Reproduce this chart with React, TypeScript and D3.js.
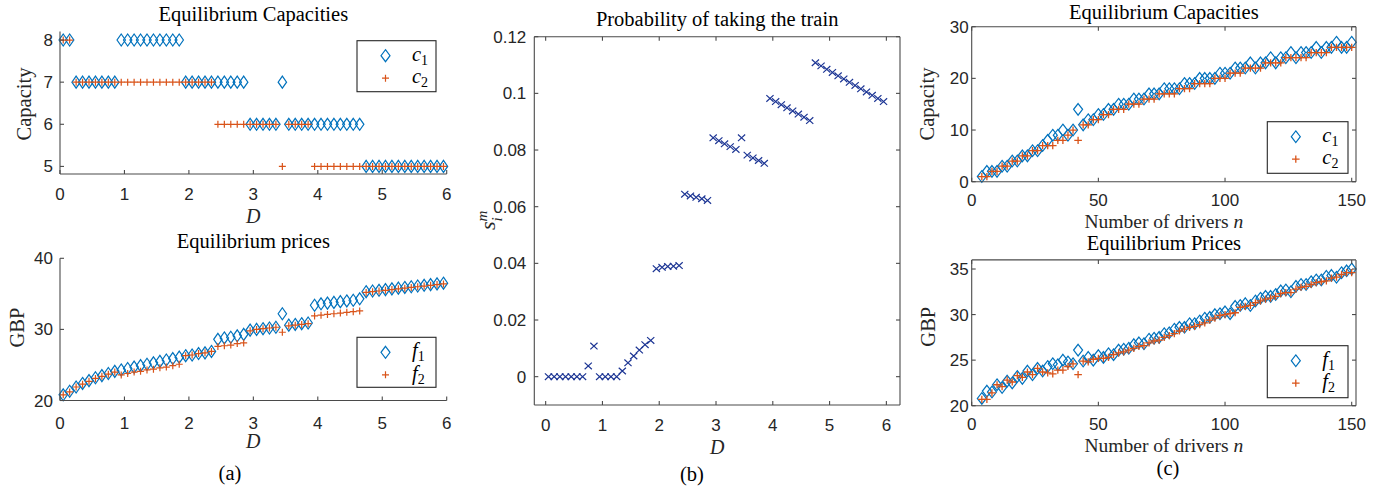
import React from "react";
import * as d3 from "d3";

// ---------------- data ----------------
const D_VALUES = [
  0.05, 0.15, 0.25, 0.35, 0.45, 0.55, 0.65, 0.75, 0.85, 0.95,
  1.05, 1.15, 1.25, 1.35, 1.45, 1.55, 1.65, 1.75, 1.85, 1.95,
  2.05, 2.15, 2.25, 2.35, 2.45, 2.55, 2.65, 2.75, 2.85, 2.95,
  3.05, 3.15, 3.25, 3.35, 3.45, 3.55, 3.65, 3.75, 3.85, 3.95,
  4.05, 4.15, 4.25, 4.35, 4.45, 4.55, 4.65, 4.75, 4.85, 4.95,
  5.05, 5.15, 5.25, 5.35, 5.45, 5.55, 5.65, 5.75, 5.85, 5.95,
];

const CAP1_D = [
  8, 8, 7, 7, 7, 7, 7, 7, 7, 8,
  8, 8, 8, 8, 8, 8, 8, 8, 8, 7,
  7, 7, 7, 7, 7, 7, 7, 7, 7, 6,
  6, 6, 6, 6, 7, 6, 6, 6, 6, 6,
  6, 6, 6, 6, 6, 6, 6, 5, 5, 5,
  5, 5, 5, 5, 5, 5, 5, 5, 5, 5,
];
const CAP2_D = [
  8, 8, 7, 7, 7, 7, 7, 7, 7, 7,
  7, 7, 7, 7, 7, 7, 7, 7, 7, 7,
  7, 7, 7, 7, 6, 6, 6, 6, 6, 6,
  6, 6, 6, 6, 5, 6, 6, 6, 6, 5,
  5, 5, 5, 5, 5, 5, 5, 5, 5, 5,
  5, 5, 5, 5, 5, 5, 5, 5, 5, 5,
];

const PRICE1_D = [
  20.8, 21.3, 21.9, 22.4, 22.8, 23.2, 23.5, 23.8, 24.1, 24.3,
  24.5, 24.7, 24.9, 25.1, 25.3, 25.5, 25.7, 25.9, 26.1, 26.3,
  26.4, 26.6, 26.7, 26.9, 28.6, 28.8, 28.9, 29.1, 29.3, 29.9,
  30.0, 30.1, 30.2, 30.3, 32.2, 30.6, 30.7, 30.8, 30.9, 33.4,
  33.6, 33.7, 33.8, 33.9, 34.0, 34.1, 34.3, 35.3, 35.4, 35.5,
  35.6, 35.7, 35.8, 35.9, 36.0, 36.1, 36.2, 36.3, 36.4, 36.5,
];
const PRICE2_D = [
  20.8, 21.2, 21.9, 22.3, 22.7, 23.1, 23.4, 23.7, 24.0, 23.6,
  23.8, 24.0, 24.1, 24.3, 24.4, 24.6, 24.7, 24.9, 25.1, 26.3,
  26.4, 26.6, 26.7, 26.9, 27.6, 27.7, 27.8, 28.0, 28.1, 29.8,
  30.0, 30.1, 30.2, 30.3, 29.6, 30.5, 30.6, 30.7, 30.8, 31.9,
  32.0, 32.1, 32.2, 32.3, 32.4, 32.5, 32.6, 35.2, 35.3, 35.4,
  35.5, 35.6, 35.7, 35.8, 35.9, 36.0, 36.1, 36.2, 36.3, 36.4,
];

const TRAIN_PROB = [
  0, 0, 0, 0, 0, 0, 0, 0.0038, 0.0108, 0,
  0, 0, 0, 0.002, 0.0049, 0.0073, 0.0094, 0.0113, 0.0128, 0.0381,
  0.0386, 0.0389, 0.039, 0.0392, 0.0644, 0.0638, 0.0633, 0.0628, 0.0622, 0.0843,
  0.0833, 0.0822, 0.0812, 0.0802, 0.0843, 0.0782, 0.0772, 0.0763, 0.0753, 0.0982,
  0.0971, 0.096, 0.0949, 0.0938, 0.0927, 0.0916, 0.0904, 0.1108, 0.1097, 0.1085,
  0.1074, 0.1062, 0.1051, 0.1039, 0.1028, 0.1016, 0.1005, 0.0993, 0.0982, 0.0971,
];

const N_VALUES = [
  4, 6, 8, 10, 12, 14, 16, 18, 20, 22,
  24, 26, 28, 30, 32, 34, 36, 38, 40, 42,
  44, 46, 48, 50, 52, 54, 56, 58, 60, 62,
  64, 66, 68, 70, 72, 74, 76, 78, 80, 82,
  84, 86, 88, 90, 92, 94, 96, 98, 100, 102,
  104, 106, 108, 110, 112, 114, 116, 118, 120, 122,
  124, 126, 128, 130, 132, 134, 136, 138, 140, 142,
  144, 146, 148, 150,
];

const CAP1_N = [
  1, 2, 2, 2, 3, 3, 4, 4, 5, 5,
  6, 6, 7, 8, 9, 9, 10, 9, 10, 14,
  11, 12, 12, 13, 13, 14, 14, 15, 15, 15,
  16, 16, 16, 17, 17, 17, 18, 18, 18, 18,
  19, 19, 19, 20, 20, 20, 20, 21, 21, 21,
  22, 22, 22, 23, 22, 23, 23, 24, 23, 24,
  24, 25, 24, 25, 25, 25, 26, 25, 26, 26,
  27, 26, 26, 27,
];
const CAP2_N = [
  1, 1, 2, 2, 3, 3, 4, 4, 5, 5,
  6, 6, 7, 7, 7, 8, 8, 9, 10, 8,
  11, 11, 12, 12, 13, 13, 14, 14, 14, 15,
  15, 15, 16, 16, 16, 17, 17, 17, 17, 18,
  18, 18, 19, 19, 19, 19, 20, 20, 20, 21,
  21, 21, 22, 22, 22, 22, 23, 23, 23, 23,
  24, 24, 24, 24, 24, 25, 25, 25, 25, 26,
  26, 26, 26, 26,
];

const PRICE1_N = [
  20.8, 21.6, 21.5, 22.3, 22.0, 22.7, 22.5, 23.2, 23.0, 23.8,
  23.4, 24.1, 23.8, 24.3, 24.6, 24.5, 25.0, 24.8, 24.6, 26.1,
  24.9, 25.3, 25.0, 25.5, 25.3, 25.7, 25.6, 26.1, 26.2, 26.3,
  26.7, 26.9, 26.8, 27.3, 27.4, 27.5, 27.9, 28.0, 28.4, 28.6,
  28.6, 29.0, 29.0, 29.3, 29.6, 29.7, 30.0, 30.1, 30.3, 30.1,
  30.9, 31.0, 31.2, 31.0, 31.5, 31.8, 32.0, 32.0, 32.2, 32.6,
  32.7, 32.5, 33.1, 33.3, 33.3, 33.6, 33.8, 33.8, 34.2, 34.3,
  34.1, 34.6, 34.8, 35.0,
];
const PRICE2_N = [
  20.7, 20.7, 21.4, 22.3, 22.1, 22.8, 22.6, 23.3, 23.1, 23.7,
  23.4, 24.1, 23.7, 23.6, 23.5, 23.9, 23.9, 24.3, 24.6, 23.4,
  24.9, 24.8, 25.1, 25.2, 25.2, 25.3, 25.6, 25.8, 25.9, 26.1,
  26.3, 26.5, 26.6, 26.9, 27.1, 27.2, 27.5, 27.7, 27.9, 28.2,
  28.4, 28.6, 28.7, 28.9, 29.1, 29.4, 29.6, 29.9, 30.0, 30.1,
  30.2, 30.8, 30.9, 31.0, 31.3, 31.5, 31.7, 31.8, 32.0, 32.3,
  32.4, 32.4, 32.8, 33.0, 33.1, 33.3, 33.5, 33.6, 33.7, 34.0,
  34.1, 34.4, 34.6, 34.6,
];

const D_TICKS = [0, 1, 2, 3, 4, 5, 6];
const CAP_D_TICKS = [5, 6, 7, 8];
const PRICE_D_TICKS = [20, 30, 40];
const PROB_TICKS = [0, 0.02, 0.04, 0.06, 0.08, 0.1, 0.12];
const N_TICKS = [0, 50, 100, 150];
const CAP_N_TICKS = [0, 10, 20, 30];
const PRICE_N_TICKS = [20, 25, 30, 35];

// ---------------- styling ----------------
const BLUE = "#0072BD";
const ORANGE = "#D95319";
const NAVY = "#1c3594";
const AXIS = "#4a4a4a";
const TXT = "#262626";
const SANS = "'Liberation Sans', Arial, Helvetica, sans-serif";
const SERIF = "'Liberation Serif', 'Times New Roman', Times, serif";

type Marker = "diamond" | "plus" | "cross";

function markerPath(m: Marker, w: number, h: number): string {
  if (m === "diamond") return `M0,${-h}L${w},0L0,${h}L${-w},0Z`;
  if (m === "plus") return `M${-w},0H${w}M0,${-h}V${h}`;
  return `M${-w},${-h}L${w},${h}M${-w},${h}L${w},${-h}`;
}

interface Series {
  xs: number[];
  ys: number[];
  marker: Marker;
  color: string;
  w: number;
  h: number;
  sw: number;
}

interface LegendRow {
  marker: Marker;
  color: string;
  w: number;
  h: number;
  sw: number;
  base: string;
  sub: string;
}

interface PanelProps {
  left: number;
  right: number;
  top: number;
  bottom: number;
  xDomain: [number, number];
  yDomain: [number, number];
  xTicks: number[];
  yTicks: number[];
  box: boolean;
  xTickBaseline: number;
  yTickGap: number;
  title: string;
  titleY: number;
  xLabel: React.ReactNode;
  xLabelY: number;
  xLabelSize?: number;
  series: Series[];
  legend?: { x: number; y: number; w: number; h: number; rows: LegendRow[] };
}

function Panel(p: PanelProps) {
  const x = d3.scaleLinear().domain(p.xDomain).range([p.left, p.right]);
  const y = d3.scaleLinear().domain(p.yDomain).range([p.bottom, p.top]);
  const tl = 4;
  const cx = (p.left + p.right) / 2;
  return (
    <g>
      {/* data */}
      {p.series.map((s, si) => (
        <g key={si} stroke={s.color} strokeWidth={s.sw} fill="none">
          {s.xs.map((xv, i) => (
            <path
              key={i}
              transform={`translate(${x(xv)},${y(s.ys[i])})`}
              d={markerPath(s.marker, s.w, s.h)}
            />
          ))}
        </g>
      ))}
      {/* axes */}
      <g stroke={AXIS} strokeWidth={1.1} fill="none">
        <line x1={p.left} x2={p.right} y1={p.bottom} y2={p.bottom} />
        <line x1={p.left} x2={p.left} y1={p.top} y2={p.bottom} />
        {p.box && <line x1={p.left} x2={p.right} y1={p.top} y2={p.top} />}
        {p.box && <line x1={p.right} x2={p.right} y1={p.top} y2={p.bottom} />}
        {p.xTicks.map((t) => (
          <g key={"xt" + t}>
            <line x1={x(t)} x2={x(t)} y1={p.bottom} y2={p.bottom - tl} />
            {p.box && <line x1={x(t)} x2={x(t)} y1={p.top} y2={p.top + tl} />}
          </g>
        ))}
        {p.yTicks.map((t) => (
          <g key={"yt" + t}>
            <line x1={p.left} x2={p.left + tl} y1={y(t)} y2={y(t)} />
            {p.box && <line x1={p.right} x2={p.right - tl} y1={y(t)} y2={y(t)} />}
          </g>
        ))}
      </g>
      <g fontFamily={SANS} fontSize={17} fill={TXT}>
        {p.xTicks.map((t) => (
          <text key={"xl" + t} x={x(t)} y={p.xTickBaseline} textAnchor="middle">
            {String(t)}
          </text>
        ))}
        {p.yTicks.map((t) => (
          <text key={"yl" + t} x={p.left - p.yTickGap} y={y(t) + 6} textAnchor="end">
            {String(t)}
          </text>
        ))}
      </g>
      <text x={cx} y={p.titleY} textAnchor="middle" fontFamily={SERIF} fontSize={20.5} fill="#000">
        {p.title}
      </text>
      <text
        x={cx}
        y={p.xLabelY}
        textAnchor="middle"
        fontFamily={SERIF}
        fontSize={p.xLabelSize ?? 20}
        fill={TXT}
      >
        {p.xLabel}
      </text>
      {p.legend && (
        <g>
          <rect
            x={p.legend.x}
            y={p.legend.y}
            width={p.legend.w}
            height={p.legend.h}
            fill="#fff"
            stroke="#262626"
            strokeWidth={1.1}
          />
          {p.legend.rows.map((r, i) => {
            const ry = p.legend!.y + 15 + i * 22.5;
            return (
              <g key={i}>
                <path
                  transform={`translate(${p.legend!.x + 28.5},${ry})`}
                  d={markerPath(r.marker, r.w, r.h)}
                  stroke={r.color}
                  strokeWidth={r.sw}
                  fill="none"
                />
                <text x={p.legend!.x + 55} y={ry + 5} fontFamily={SERIF} fontSize={20.5} fill="#000">
                  <tspan fontStyle="italic">{r.base}</tspan>
                  <tspan fontSize={14} dy={4}>
                    {r.sub}
                  </tspan>
                </text>
              </g>
            );
          })}
        </g>
      )}
    </g>
  );
}

function RotLabel(props: { x: number; y: number; children: React.ReactNode }) {
  return (
    <text
      transform={`translate(${props.x},${props.y}) rotate(-90)`}
      textAnchor="middle"
      fontFamily={SERIF}
      fontSize={20.5}
      fill={TXT}
    >
      {props.children}
    </text>
  );
}

const diamondA = { marker: "diamond" as Marker, color: BLUE, w: 4.2, h: 6, sw: 1.2 };
const plusA = { marker: "plus" as Marker, color: ORANGE, w: 3.5, h: 3.5, sw: 1.2 };
const diamondC = { marker: "diamond" as Marker, color: BLUE, w: 4.5, h: 5.8, sw: 1.2 };
const plusC = { marker: "plus" as Marker, color: ORANGE, w: 3.8, h: 3.6, sw: 1.3 };

export default function App() {
  return (
    <svg
      width={1390}
      height={491}
      style={{ position: "absolute", left: 0, top: 0, background: "#fff" }}
    >
      {/* (a) top */}
      <Panel
        left={60}
        right={446.7}
        top={31.6}
        bottom={174}
        xDomain={[0, 6]}
        yDomain={[4.82, 8.2]}
        xTicks={D_TICKS}
        yTicks={CAP_D_TICKS}
        box={false}
        xTickBaseline={199.5}
        yTickGap={7}
        title="Equilibrium Capacities"
        titleY={20.7}
        xLabel={<tspan fontStyle="italic">D</tspan>}
        xLabelY={223}
        series={[
          { xs: D_VALUES, ys: CAP1_D, ...diamondA },
          { xs: D_VALUES, ys: CAP2_D, ...plusA },
        ]}
        legend={{
          x: 357,
          y: 40.7,
          w: 79,
          h: 51,
          rows: [
            { ...diamondA, w: 4.5, h: 6, base: "c", sub: "1" },
            { ...plusA, base: "c", sub: "2" },
          ],
        }}
      />
      <RotLabel x={31} y={104}>Capacity</RotLabel>

      {/* (a) bottom */}
      <Panel
        left={60}
        right={446.7}
        top={258.3}
        bottom={400.5}
        xDomain={[0, 6]}
        yDomain={[20, 40]}
        xTicks={D_TICKS}
        yTicks={PRICE_D_TICKS}
        box={false}
        xTickBaseline={428.5}
        yTickGap={7}
        title="Equilibrium prices"
        titleY={248.3}
        xLabel={<tspan fontStyle="italic">D</tspan>}
        xLabelY={448}
        series={[
          { xs: D_VALUES, ys: PRICE1_D, ...diamondA },
          { xs: D_VALUES, ys: PRICE2_D, ...plusA },
        ]}
        legend={{
          x: 357,
          y: 337.3,
          w: 79,
          h: 50,
          rows: [
            { ...diamondA, w: 4.5, h: 6, base: "f", sub: "1" },
            { ...plusA, base: "f", sub: "2" },
          ],
        }}
      />
      <RotLabel x={23.5} y={327.5}>GBP</RotLabel>
      <text x={230} y={480} textAnchor="middle" fontFamily={SERIF} fontSize={20.5} fill="#000">
        (a)
      </text>

      {/* (b) */}
      <Panel
        left={534.3}
        right={900}
        top={36.7}
        bottom={405}
        xDomain={[-0.2, 6.24]}
        yDomain={[-0.01, 0.12]}
        xTicks={D_TICKS}
        yTicks={PROB_TICKS}
        box={true}
        xTickBaseline={430.5}
        yTickGap={8}
        title="Probability of taking the train"
        titleY={26}
        xLabel={<tspan fontStyle="italic">D</tspan>}
        xLabelY={454}
        series={[
          { xs: D_VALUES, ys: TRAIN_PROB, marker: "cross", color: NAVY, w: 3.6, h: 3.3, sw: 1.2 },
        ]}
      />
      <text
        transform="translate(495,230) rotate(-90)"
        fontFamily={SERIF}
        fontSize={22}
        fill={TXT}
        fontStyle="italic"
      >
        <tspan>s</tspan>
        <tspan fontSize={15} dy={-8}>
          m
        </tspan>
        <tspan fontSize={15} dx={-11} dy={15}>
          i
        </tspan>
      </text>
      <text x={692} y={481} textAnchor="middle" fontFamily={SERIF} fontSize={20.5} fill="#000">
        (b)
      </text>

      {/* (c) top */}
      <Panel
        left={971.7}
        right={1356}
        top={26.7}
        bottom={181.7}
        xDomain={[0, 151.7]}
        yDomain={[0, 30]}
        xTicks={N_TICKS}
        yTicks={CAP_N_TICKS}
        box={true}
        xTickBaseline={205.5}
        yTickGap={3}
        title="Equilibrium Capacities"
        titleY={18.5}
        xLabel={
          <>
            Number of drivers <tspan fontStyle="italic">n</tspan>
          </>
        }
        xLabelY={228}
        xLabelSize={19.5}
        series={[
          { xs: N_VALUES, ys: CAP1_N, ...diamondC },
          { xs: N_VALUES, ys: CAP2_N, ...plusC },
        ]}
        legend={{
          x: 1267.3,
          y: 121.7,
          w: 80.7,
          h: 51.6,
          rows: [
            { ...diamondC, base: "c", sub: "1" },
            { ...plusC, base: "c", sub: "2" },
          ],
        }}
      />
      <RotLabel x={934} y={104}>Capacity</RotLabel>

      {/* (c) bottom */}
      <Panel
        left={971.7}
        right={1356}
        top={259.9}
        bottom={405.7}
        xDomain={[0, 151.7]}
        yDomain={[20, 36]}
        xTicks={N_TICKS}
        yTicks={PRICE_N_TICKS}
        box={true}
        xTickBaseline={429.5}
        yTickGap={3}
        title="Equilibrium Prices"
        titleY={250}
        xLabel={
          <>
            Number of drivers <tspan fontStyle="italic">n</tspan>
          </>
        }
        xLabelY={452}
        xLabelSize={19.5}
        series={[
          { xs: N_VALUES, ys: PRICE1_N, ...diamondC },
          { xs: N_VALUES, ys: PRICE2_N, ...plusC },
        ]}
        legend={{
          x: 1267.3,
          y: 345.7,
          w: 80.7,
          h: 52,
          rows: [
            { ...diamondC, base: "f", sub: "1" },
            { ...plusC, base: "f", sub: "2" },
          ],
        }}
      />
      <RotLabel x={935} y={326.7}>GBP</RotLabel>
      <text x={1168} y={475} textAnchor="middle" fontFamily={SERIF} fontSize={20.5} fill="#000">
        (c)
      </text>
    </svg>
  );
}
